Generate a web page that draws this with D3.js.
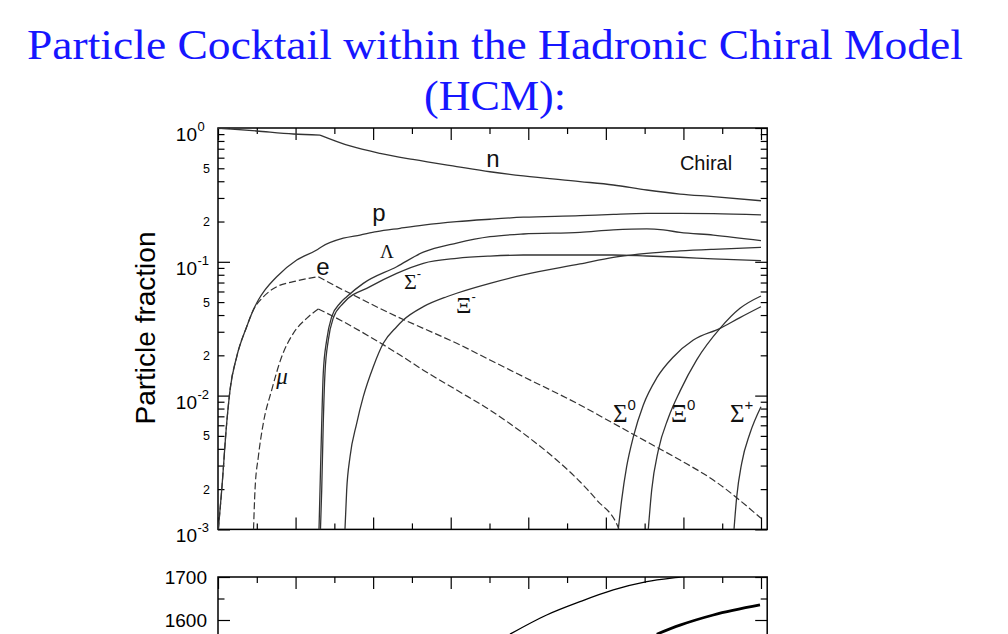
<!DOCTYPE html>
<html><head><meta charset="utf-8">
<script src="https://cdn.jsdelivr.net/npm/d3@7"></script>
<style>body{margin:0;background:#fff;} svg{display:block;}</style>
</head><body>
<svg id="c" width="1008" height="634"></svg>
<script>
// ---------- data (x = density in axis units, y = particle fraction) ----------
const titleLines = ["Particle Cocktail within the Hadronic Chiral Model", "(HCM):"];
const yLabel = "Particle fraction";
const xMajorTicks = [0,1,2,3,4,5,6,7];
const xMinorTicks = [0.5,1.5,2.5,3.5,4.5,5.5,6.5];
const yMajorTicks = [1e-3,1e-2,1e-1,1];
const yMajorExp = ["-3","-2","-1","0"];
const yMinorLabeled = [2e-3,5e-3,2e-2,5e-2,0.2,0.5];
const yMinorLabels = ["2","5","2","5","2","5"];
const massTicks = [1600,1700];
const massMinorTicks = [1650];
const massTickLabels = ["1600","1700"];

const neutronLow  = [[0,1.0],[0.499,0.950],[0.971,0.902],[1.315,0.886]];
const neutronHigh = [[1.315,0.886],[1.702,0.734],[2.088,0.647],[2.513,0.582],[3.077,0.515],[3.506,0.471],[3.936,0.438],[4.667,0.398],[5.096,0.375],[5.527,0.344],[5.956,0.321],[6.385,0.307],[7.0,0.286]];
const proton = [[0.004,0.001],[0.048,0.00197],[0.112,0.00621],[0.155,0.0110],[0.241,0.0195],[0.370,0.0327],[0.455,0.0436],[0.520,0.0518],[0.606,0.0616],[0.757,0.0774],[1.015,0.103],[1.272,0.1226],[1.337,0.1297],[1.615,0.150],[1.831,0.1585],[2.046,0.168],[2.346,0.178],[2.647,0.188],[3.077,0.1995],[3.506,0.208],[3.936,0.2154],[4.667,0.221],[5.096,0.2264],[5.527,0.230],[5.956,0.230],[6.385,0.229],[7.0,0.224]];
const electronRise = [[0.004,0.001],[0.048,0.00197],[0.112,0.00621],[0.155,0.0110],[0.241,0.0195],[0.370,0.0327],[0.455,0.0436],[0.584,0.0546],[0.757,0.0652],[0.971,0.0710],[1.293,0.0774]];
const electronFall = [[1.293,0.0774],[1.530,0.0652],[1.744,0.0565],[2.217,0.0412],[2.647,0.0318],[3.077,0.0246],[3.506,0.01846],[3.936,0.01385],[4.667,0.00851],[5.096,0.00621],[5.527,0.00452],[5.956,0.00330],[6.385,0.00234],[7.0,0.00121]];
const muonRise = [[0.458,0.001],[0.477,0.00197],[0.520,0.00349],[0.584,0.00621],[0.692,0.0110],[0.821,0.0195],[0.971,0.0292],[1.143,0.0378],[1.293,0.0444]];
const muonFall = [[1.293,0.0444],[1.615,0.0357],[1.960,0.0275],[2.346,0.0201],[2.647,0.0155],[3.077,0.0110],[3.506,0.0078],[3.936,0.00522],[4.366,0.00330],[4.667,0.00227],[4.882,0.00166],[5.17,0.001],[5.20,0.0008]];
const lambda = [[1.302,0.001],[1.315,0.00197],[1.337,0.00621],[1.357,0.01468],[1.401,0.0260],[1.466,0.0389],[1.573,0.049],[1.659,0.0548],[1.873,0.069],[2.304,0.0919],[2.647,0.118],[3.077,0.138],[3.506,0.154],[3.936,0.1614],[4.667,0.166],[5.096,0.173],[5.527,0.176],[5.741,0.173],[5.956,0.166],[6.385,0.1585],[7.0,0.144]];
const sigmaMinus = [[1.321,0.001],[1.337,0.00197],[1.357,0.00621],[1.379,0.0147],[1.422,0.0260],[1.486,0.0380],[1.615,0.0490],[1.960,0.0652],[2.304,0.0820],[2.647,0.0975],[3.077,0.1062],[3.506,0.1104],[3.936,0.1124],[4.667,0.1124],[5.096,0.1124],[5.527,0.1105],[5.956,0.1081],[6.385,0.1050],[7.0,0.1019]];
const xiMinus = [[1.637,0.001],[1.659,0.00197],[1.702,0.00349],[1.788,0.00621],[1.873,0.00982],[2.002,0.01644],[2.131,0.0246],[2.304,0.0327],[2.389,0.0367],[2.647,0.0462],[2.948,0.0548],[3.077,0.0582],[3.506,0.0690],[3.936,0.0797],[4.667,0.0964],[5.096,0.108],[5.527,0.1157],[5.956,0.1205],[6.385,0.124],[7.0,0.128]];
const sigmaZero = [[5.160,0.001],[5.204,0.00166],[5.268,0.00294],[5.354,0.00491],[5.483,0.00851],[5.656,0.01355],[5.870,0.01945],[6.128,0.0260],[6.472,0.0318],[6.729,0.0383],[7.0,0.0462]];
const xiZero = [[5.547,0.001],[5.591,0.00197],[5.676,0.0039],[5.805,0.0068],[5.956,0.0108],[6.171,0.0185],[6.472,0.0318],[6.729,0.0449],[7.0,0.0555]];
const sigmaPlus = [[6.652,0.001],[6.687,0.00175],[6.751,0.00312],[6.858,0.00523],[7.0,0.00826]];
const massThin  = [[3.764,1567],[4.237,1611.6],[4.667,1642.6],[5.096,1669.8],[5.527,1689],[5.999,1700.7],[6.3,1708]];
const massThick = [[5.656,1567],[5.956,1588],[6.385,1611.6],[6.987,1634.9]];

// ---------- layout ----------
const svg = d3.select("#c");
const L = 218, R = 767.2, T = 128, B = 529.4;
const x = d3.scaleLinear().domain([0, 7.08]).range([L, R]);
const y = d3.scaleLog().domain([1e-3, 1]).range([B, T]);
const TB = 577;
const ym = d3.scaleLinear().domain([1600, 1700]).range([620, TB]);

// title
const title = svg.append("g").attr("fill", "#1616ff").attr("font-family", "'Liberation Serif', 'Times New Roman', serif");
title.append("text").attr("x", 495).attr("y", 59).attr("text-anchor", "middle").attr("font-size", 42)
  .attr("textLength", 936).attr("lengthAdjust", "spacingAndGlyphs").text(titleLines[0]);
title.append("text").attr("x", 495).attr("y", 110).attr("text-anchor", "middle").attr("font-size", 42)
  .attr("textLength", 142).attr("lengthAdjust", "spacingAndGlyphs").text(titleLines[1]);

// clip
const defs = svg.append("defs");
defs.append("clipPath").attr("id", "clipTop").append("rect").attr("x", L).attr("y", T).attr("width", R - L).attr("height", B - T);
defs.append("clipPath").attr("id", "clipBot").append("rect").attr("x", L).attr("y", TB).attr("width", R - L).attr("height", 200);

// ticks helper
const yMinorAll = [];
for (let e = -3; e < 0; e++) for (let k = 2; k <= 9; k++) yMinorAll.push(k * Math.pow(10, e));
function ticks(g, axisFn, scale, values, size) {
  g.call(axisFn(scale).tickValues(values).tickSizeInner(-size).tickSizeOuter(0).tickFormat(""));
  g.select(".domain").remove();
  g.selectAll(".tick line").attr("stroke", "#000").attr("stroke-width", 1.2);
}
// top panel ticks
ticks(svg.append("g").attr("transform", `translate(0,${T})`), d3.axisTop, x, xMajorTicks, 12);
ticks(svg.append("g").attr("transform", `translate(0,${T})`), d3.axisTop, x, xMinorTicks, 6);
ticks(svg.append("g").attr("transform", `translate(0,${B})`), d3.axisBottom, x, xMajorTicks, 12);
ticks(svg.append("g").attr("transform", `translate(0,${B})`), d3.axisBottom, x, xMinorTicks, 6);
ticks(svg.append("g").attr("transform", `translate(${L},0)`), d3.axisLeft, y, yMajorTicks, 12);
ticks(svg.append("g").attr("transform", `translate(${L},0)`), d3.axisLeft, y, yMinorAll, 6.5);
ticks(svg.append("g").attr("transform", `translate(${R},0)`), d3.axisRight, y, yMajorTicks, 12);
ticks(svg.append("g").attr("transform", `translate(${R},0)`), d3.axisRight, y, yMinorAll, 6.5);
svg.append("rect").attr("x", L).attr("y", T).attr("width", R - L).attr("height", B - T)
  .attr("fill", "none").attr("stroke", "#000").attr("stroke-width", 1.5);

// y tick labels
const lab = svg.append("g").attr("font-family", "'Liberation Sans', Arial, sans-serif").attr("fill", "#000");
yMajorTicks.forEach((v, i) => {
  lab.append("text").attr("x", 197).attr("y", y(v) + 13).attr("text-anchor", "end").attr("font-size", 19).text("10");
  lab.append("text").attr("x", 197.5).attr("y", y(v) + 3).attr("font-size", 13).text(yMajorExp[i]);
});
yMinorLabeled.forEach((v, i) => {
  lab.append("text").attr("x", 210).attr("y", y(v) + 4.5).attr("text-anchor", "end").attr("font-size", 12.5).text(yMinorLabels[i]);
});
lab.append("text").attr("transform", "translate(155,328) rotate(-90)").attr("text-anchor", "middle")
  .attr("font-size", 28).text(yLabel);

// curves
const line = d3.line().x(d => x(d[0])).y(d => y(d[1])).curve(d3.curveMonotoneX);
const plot = svg.append("g").attr("clip-path", "url(#clipTop)").attr("fill", "none");
const solidSeries = [neutronLow, neutronHigh, proton, lambda, sigmaMinus, xiMinus, sigmaZero, xiZero, sigmaPlus];
solidSeries.forEach(s => plot.append("path").attr("d", line(s)).attr("stroke", "#333").attr("stroke-width", 1.3));
[electronRise, electronFall, muonRise, muonFall].forEach(s =>
  plot.append("path").attr("d", line(s)).attr("stroke", "#333").attr("stroke-width", 1.2).attr("stroke-dasharray", "7,3"));

// curve labels
const sans = svg.append("g").attr("font-family", "'Liberation Sans', Arial, sans-serif").attr("fill", "#111").attr("text-anchor", "middle");
sans.append("text").attr("x", 493).attr("y", 167).attr("font-size", 24).text("n");
sans.append("text").attr("x", 706).attr("y", 170).attr("font-size", 20).text("Chiral");
sans.append("text").attr("x", 379).attr("y", 221).attr("font-size", 24).text("p");
sans.append("text").attr("x", 323).attr("y", 275).attr("font-size", 24).text("e");
const serif = svg.append("g").attr("font-family", "'Liberation Serif', 'Times New Roman', serif").attr("fill", "#111");
function greek(cx, base, size, main, sup, supSize) {
  const t = serif.append("text").attr("x", cx).attr("y", base).attr("font-size", size).attr("text-anchor", "start");
  t.append("tspan").text(main);
  if (sup) t.append("tspan").attr("font-family", "'Liberation Sans', Arial, sans-serif").attr("font-size", supSize).attr("dy", -size * 0.5).text(sup);
}
greek(380, 258, 19, "Λ", null);
greek(404, 289, 22, "Σ", "-", 13);
greek(456, 313, 24, "Ξ", "-", 13);
greek(613, 422, 25, "Σ", "0", 15);
greek(671, 422, 25, "Ξ", "0", 15);
greek(730, 422, 25, "Σ", "+", 15);
serif.append("text").attr("x", 282).attr("y", 384).attr("font-size", 23).attr("font-style", "italic").attr("text-anchor", "middle").text("μ");

// ---------- bottom panel ----------
ticks(svg.append("g").attr("transform", `translate(0,${TB})`), d3.axisTop, x, xMajorTicks, 12);
ticks(svg.append("g").attr("transform", `translate(0,${TB})`), d3.axisTop, x, xMinorTicks, 6);
ticks(svg.append("g").attr("transform", `translate(${L},0)`), d3.axisLeft, ym, massTicks, 12);
ticks(svg.append("g").attr("transform", `translate(${L},0)`), d3.axisLeft, ym, massMinorTicks, 6.5);
ticks(svg.append("g").attr("transform", `translate(${R},0)`), d3.axisRight, ym, massTicks, 12);
ticks(svg.append("g").attr("transform", `translate(${R},0)`), d3.axisRight, ym, massMinorTicks, 6.5);
svg.append("path").attr("d", `M${L},650V${TB}H${R}V650`).attr("fill", "none").attr("stroke", "#000").attr("stroke-width", 1.5);
massTicks.forEach((v, i) => {
  lab.append("text").attr("x", 207).attr("y", ym(v) + 7).attr("text-anchor", "end").attr("font-size", 19).text(massTickLabels[i]);
});
const lineM = d3.line().x(d => x(d[0])).y(d => ym(d[1])).curve(d3.curveMonotoneX);
const bot = svg.append("g").attr("clip-path", "url(#clipBot)").attr("fill", "none");
bot.append("path").attr("d", lineM(massThin)).attr("stroke", "#000").attr("stroke-width", 1.3);
bot.append("path").attr("d", lineM(massThick)).attr("stroke", "#000").attr("stroke-width", 2.8);
</script>
</body></html>
